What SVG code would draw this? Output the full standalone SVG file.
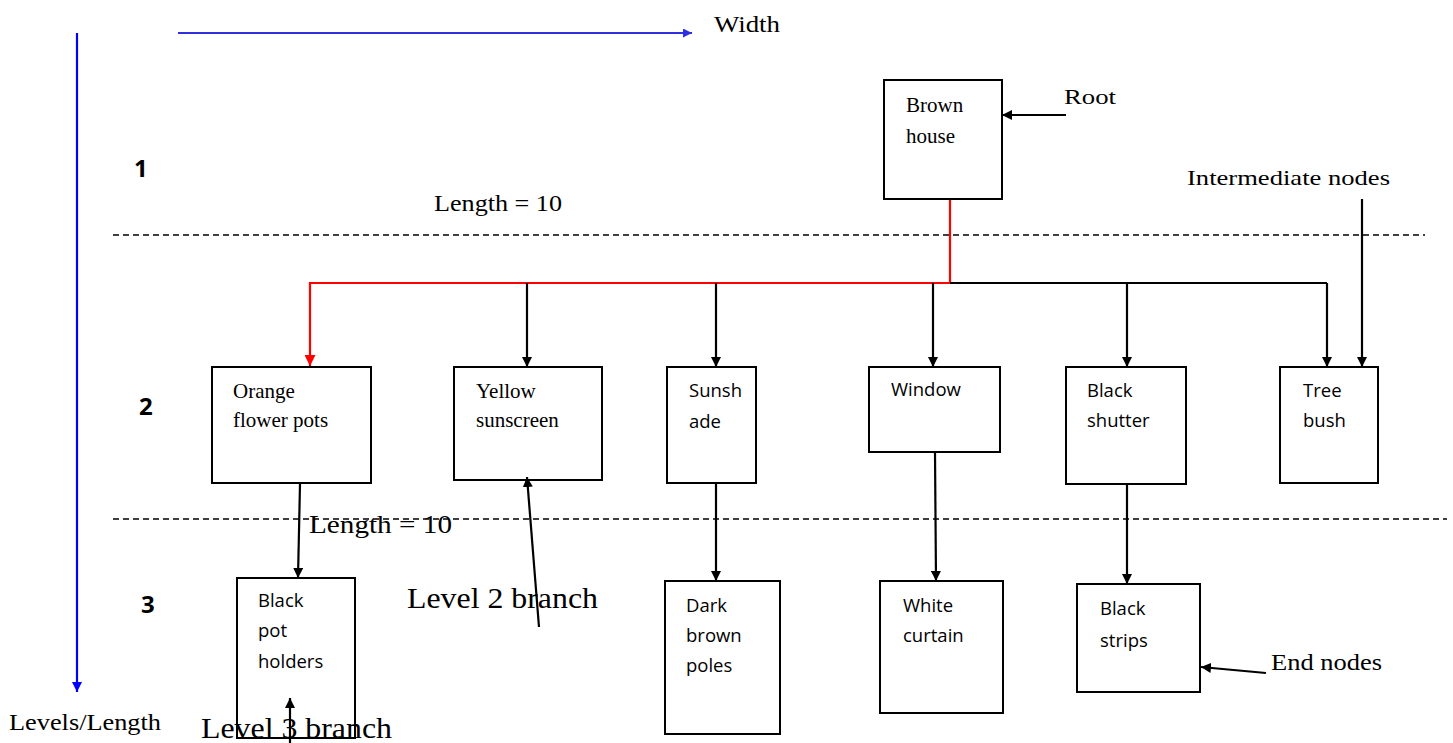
<svg xmlns="http://www.w3.org/2000/svg" width="1453" height="743" viewBox="0 0 1453 743">
  <style>
    .box { fill: #ffffff; stroke: #000000; stroke-width: 2; }
    .serif { font-family: "Liberation Serif", "Times New Roman", serif; fill: #000000; }
    .sans { font-family: "Open Sans", "Noto Sans", sans-serif; font-size: 18.5px; fill: #000000; }
    .ntxt { font-family: "Liberation Serif", "Times New Roman", serif; font-size: 21px; fill: #000000; }
    .lvl { font-family: "Open Sans", "Liberation Sans", sans-serif; font-weight: bold; font-size: 24px; fill: #000000; }
    .edge { fill: none; stroke: #000000; stroke-width: 2.2; }
    .red { fill: none; stroke: #ff0000; stroke-width: 2.2; }
    .dash { fill: none; stroke: #000000; stroke-width: 1.5; stroke-dasharray: 6 4; }
  </style>
  <defs>
    <marker id="ah" viewBox="0 0 10 10" refX="10" refY="5" markerWidth="10" markerHeight="10" markerUnits="userSpaceOnUse" orient="auto">
      <path d="M0,0 L10,5 L0,10 z" fill="#000000"/>
    </marker>
    <marker id="ahRed" viewBox="0 0 10 10" refX="10" refY="5" markerWidth="11" markerHeight="11" markerUnits="userSpaceOnUse" orient="auto">
      <path d="M0,0 L10,5 L0,10 z" fill="#ff0000"/>
    </marker>
    <marker id="ahBlue" viewBox="0 0 10 10" refX="10" refY="5" markerWidth="10" markerHeight="10" markerUnits="userSpaceOnUse" orient="auto">
      <path d="M0,0 L10,5 L0,10 z" fill="#0000ff"/>
    </marker>
    <marker id="ahBlue2" viewBox="0 0 10 10" refX="10" refY="5" markerWidth="9" markerHeight="9" markerUnits="userSpaceOnUse" orient="auto">
      <path d="M0,0 L10,5 L0,10 z" fill="#2f2fe0"/>
    </marker>
  </defs>

  <rect width="1453" height="743" fill="#ffffff"/>

  <!-- axes -->
  <g id="axes">
    <line x1="178" y1="33" x2="692" y2="33" stroke="#2f2fe0" stroke-width="2.2" marker-end="url(#ahBlue2)"/>
    <line x1="77" y1="33" x2="77" y2="692" stroke="#0000ff" stroke-width="2.2" marker-end="url(#ahBlue)"/>
    <text class="serif" x="714" y="32" font-size="23" textLength="66" lengthAdjust="spacingAndGlyphs">Width</text>
    <text class="serif" x="9" y="730" font-size="24" textLength="152" lengthAdjust="spacingAndGlyphs">Levels/Length</text>
  </g>

  <!-- level separators and labels -->
  <g id="levels">
    <line class="dash" x1="113" y1="235" x2="1425" y2="235"/>
    <line class="dash" x1="113" y1="519" x2="1447" y2="519"/>
    <text class="lvl" x="134" y="177">1</text>
    <text class="lvl" x="139" y="415">2</text>
    <text class="lvl" x="141" y="613">3</text>
    <text class="serif" x="434" y="211" font-size="23" textLength="128" lengthAdjust="spacingAndGlyphs">Length = 10</text>
  </g>

  <!-- tree connectors -->
  <g id="connectors">
    <polyline class="red" points="950,200 950,283 310,283 310,366" marker-end="url(#ahRed)"/>
    <line class="edge" x1="950" y1="283" x2="1327" y2="283"/>
    <line class="edge" x1="527" y1="283" x2="527" y2="367" marker-end="url(#ah)"/>
    <line class="edge" x1="716" y1="283" x2="716" y2="367" marker-end="url(#ah)"/>
    <line class="edge" x1="933" y1="283" x2="933" y2="367" marker-end="url(#ah)"/>
    <line class="edge" x1="1127" y1="283" x2="1127" y2="367" marker-end="url(#ah)"/>
    <line class="edge" x1="1327" y1="283" x2="1327" y2="367" marker-end="url(#ah)"/>

    <line class="edge" x1="300" y1="484" x2="298" y2="578" marker-end="url(#ah)"/>
    <line class="edge" x1="716" y1="483" x2="716" y2="581" marker-end="url(#ah)"/>
    <line class="edge" x1="935" y1="452" x2="936" y2="581" marker-end="url(#ah)"/>
    <line class="edge" x1="1127" y1="484" x2="1127" y2="584" marker-end="url(#ah)"/>
  </g>

  <!-- level 1 -->
  <g id="brown-house">
    <rect class="box" x="884" y="80" width="118" height="119"/>
    <text class="ntxt" x="906" y="112">Brown</text>
    <text class="ntxt" x="906" y="143">house</text>
  </g>

  <!-- level 2 -->
  <g id="orange-flower-pots">
    <rect class="box" x="212" y="367" width="159" height="116"/>
    <text class="ntxt" x="233" y="398">Orange</text>
    <text class="ntxt" x="233" y="427">flower pots</text>
  </g>
  <g id="yellow-sunscreen">
    <rect class="box" x="454" y="367" width="148" height="113"/>
    <text class="ntxt" x="476" y="398">Yellow</text>
    <text class="ntxt" x="476" y="427">sunscreen</text>
  </g>
  <g id="sunshade">
    <rect class="box" x="667" y="367" width="89" height="116"/>
    <text class="sans" x="689" y="397">Sunsh</text>
    <text class="sans" x="689" y="428">ade</text>
  </g>
  <g id="window">
    <rect class="box" x="869" y="367" width="131" height="85"/>
    <text class="sans" x="891" y="396">Window</text>
  </g>
  <g id="black-shutter">
    <rect class="box" x="1066" y="367" width="120" height="117"/>
    <text class="sans" x="1087" y="397">Black</text>
    <text class="sans" x="1087" y="427">shutter</text>
  </g>
  <g id="tree-bush">
    <rect class="box" x="1280" y="367" width="98" height="116"/>
    <text class="sans" x="1303" y="397">Tree</text>
    <text class="sans" x="1303" y="427">bush</text>
  </g>

  <!-- level 3 -->
  <g id="black-pot-holders">
    <rect class="box" x="237" y="578" width="118" height="160"/>
    <text class="sans" x="258" y="607">Black</text>
    <text class="sans" x="258" y="637">pot</text>
    <text class="sans" x="258" y="668">holders</text>
  </g>
  <g id="dark-brown-poles">
    <rect class="box" x="665" y="581" width="115" height="153"/>
    <text class="sans" x="686" y="612">Dark</text>
    <text class="sans" x="686" y="642">brown</text>
    <text class="sans" x="686" y="672">poles</text>
  </g>
  <g id="white-curtain">
    <rect class="box" x="880" y="581" width="123" height="132"/>
    <text class="sans" x="903" y="612">White</text>
    <text class="sans" x="903" y="642">curtain</text>
  </g>
  <g id="black-strips">
    <rect class="box" x="1077" y="584" width="123" height="108"/>
    <text class="sans" x="1100" y="615">Black</text>
    <text class="sans" x="1100" y="647">strips</text>
  </g>

  <!-- annotation labels and their pointers, drawn on top of the nodes -->
  <g id="labels">
    <line class="edge" x1="1066" y1="115" x2="1002" y2="115" marker-end="url(#ah)"/>
    <line class="edge" x1="1362" y1="199" x2="1362" y2="367" marker-end="url(#ah)"/>
    <line class="edge" x1="1266" y1="673" x2="1201" y2="667" marker-end="url(#ah)"/>
    <line class="edge" x1="539" y1="627" x2="527" y2="477" marker-end="url(#ah)"/>
    <line class="edge" x1="290" y1="743" x2="290" y2="698" marker-end="url(#ah)"/>

    <text class="serif" x="1064" y="104" font-size="22" textLength="52" lengthAdjust="spacingAndGlyphs">Root</text>
    <text class="serif" x="1187" y="185" font-size="22" textLength="203" lengthAdjust="spacingAndGlyphs">Intermediate nodes</text>
    <text class="serif" x="1271" y="670" font-size="24" textLength="111" lengthAdjust="spacingAndGlyphs">End nodes</text>
    <text class="serif" x="309" y="533" font-size="26" textLength="143" lengthAdjust="spacingAndGlyphs">Length = 10</text>
    <text class="serif" x="407" y="608" font-size="30" textLength="191" lengthAdjust="spacingAndGlyphs">Level 2 branch</text>
    <text class="serif" x="201" y="738" font-size="30" textLength="191" lengthAdjust="spacingAndGlyphs">Level 3 branch</text>
  </g>
</svg>
